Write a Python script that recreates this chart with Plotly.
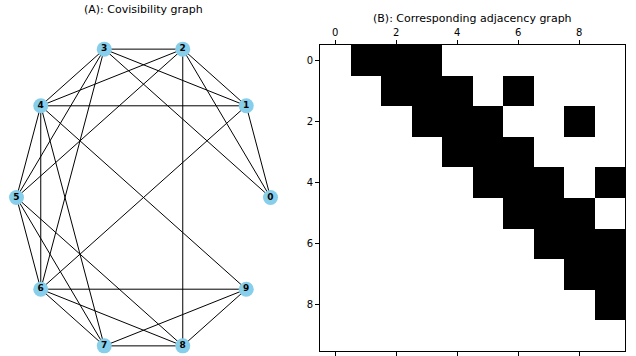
import numpy as np
import plotly.graph_objects as go

W, H = 636, 356

# Graph: 10 keyframes and their covisibility edges (upper triangle)
nodes = list(range(10))
edges = [
    (0, 1), (0, 2), (0, 3),
    (1, 2), (1, 3), (1, 4), (1, 6),
    (2, 3), (2, 4), (2, 5), (2, 8),
    (3, 4), (3, 5), (3, 6),
    (4, 5), (4, 6), (4, 7), (4, 9),
    (5, 6), (5, 7), (5, 8),
    (6, 7), (6, 8), (6, 9),
    (7, 8), (7, 9),
    (8, 9),
]
tick_vals = [0, 2, 4, 6, 8]

# circular layout, node 0 at angle 0
ang = 2 * np.pi * np.array(nodes) / len(nodes)
px_ = np.cos(ang)
py_ = np.sin(ang)

# adjacency matrix built from the edge list
n = len(nodes)
adj = np.zeros((n, n))
for i, j in edges:
    adj[i, j] = 1

ex, ey = [], []
for i, j in edges:
    ex += [px_[i], px_[j], None]
    ey += [py_[i], py_[j], None]

fig = go.Figure()
fig.add_trace(go.Scatter(x=ex, y=ey, mode="lines",
                         line=dict(color="black", width=1),
                         hoverinfo="skip", showlegend=False,
                         xaxis="x", yaxis="y"))
fig.add_trace(go.Scatter(x=px_, y=py_, mode="markers+text",
                         marker=dict(size=15, color="#87CEEB"),
                         text=[f"<b>{k}</b>" for k in nodes],
                         textposition="middle center",
                         textfont=dict(size=9, color="black", family="DejaVu Sans"),
                         showlegend=False, xaxis="x", yaxis="y"))

fig.add_trace(go.Heatmap(z=adj, x=nodes, y=nodes,
                         colorscale=[[0, "white"], [1, "black"]],
                         showscale=False, xaxis="x2", yaxis="y2"))

# left panel placement (pixel based)
cx, cy, rx, ry = 143.5, 197.5, 127.0, 156.0
lx0, lx1 = 5, 282
ly_top, ly_bot = 30, 356
xr = [(lx0 - cx) / rx, (lx1 - cx) / rx]
yr = [(cy - ly_bot) / ry, (cy - ly_top) / ry]

# right panel placement (pixel based)
rx0, rx1, ry_top, ry_bot = 320, 625, 45, 350.5

axis_font = dict(family="DejaVu Sans", size=10, color="black")

fig.update_layout(
    width=W, height=H,
    margin=dict(l=0, r=0, t=0, b=0),
    paper_bgcolor="white", plot_bgcolor="white",
    font=dict(family="DejaVu Sans", color="black"),
    xaxis=dict(domain=[lx0 / W, lx1 / W], range=xr, visible=False),
    yaxis=dict(domain=[(H - ly_bot) / H, (H - ly_top) / H], range=yr, visible=False),
    xaxis2=dict(domain=[rx0 / W, rx1 / W], range=[-0.5, 9.5], side="top",
                anchor="y2", tickvals=tick_vals, ticks="outside", ticklen=4,
                tickcolor="black", showline=True, linecolor="black", linewidth=1,
                mirror="ticks", showgrid=False, zeroline=False, tickfont=axis_font),
    yaxis2=dict(domain=[(H - ry_bot) / H, (H - ry_top) / H], range=[9.5, -0.5],
                anchor="x2", tickvals=tick_vals, ticks="outside", ticklen=4,
                tickcolor="black", showline=True, linecolor="black", linewidth=1,
                mirror=True, showgrid=False, zeroline=False, tickfont=axis_font),
    annotations=[
        dict(text="(A): Covisibility graph", x=143.5 / W, y=1 - 10 / H,
             xref="paper", yref="paper", showarrow=False,
             xanchor="center", yanchor="middle",
             font=dict(size=11, family="DejaVu Sans", color="black")),
        dict(text="(B): Corresponding adjacency graph", x=472.5 / W, y=1 - 19 / H,
             xref="paper", yref="paper", showarrow=False,
             xanchor="center", yanchor="middle",
             font=dict(size=11, family="DejaVu Sans", color="black")),
    ],
)

fig.write_html("out.html")
